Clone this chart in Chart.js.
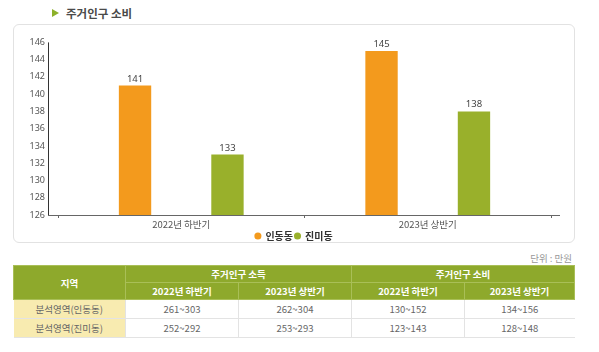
<!DOCTYPE html>
<html>
<head>
<meta charset="utf-8">
<script src="https://cdn.jsdelivr.net/npm/chart.js@4"></script>
<style>
  body { margin: 0; background: #fff; font-family: "Noto Sans CJK KR", "Noto Sans", sans-serif; }
  #wrap { position: relative; width: 599px; height: 352px; overflow: hidden; }
  .title { position: absolute; left: 52px; top: 5px; font-size: 11.5px; font-weight: bold; color: #4a4a4a; }
  .title .tri { display: inline-block; width: 0; height: 0; border-top: 4px solid transparent; border-bottom: 4px solid transparent; border-left: 7px solid #8db12a; margin-right: 7px; vertical-align: 1px; }
  .box { position: absolute; left: 13px; top: 24px; width: 560px; height: 217px; border: 1px solid #e2e2e2; border-radius: 6px; }
  .cv { position: absolute; left: 13px; top: 24px; width: 562px; height: 219px; }
  .unit { position: absolute; right: 27px; top: 251px; font-size: 9.5px; color: #999; }
  table { position: absolute; left: 13px; top: 265px; width: 562px; border-collapse: collapse; font-size: 9.5px; }
  th { background: #8ea92c; color: #fff; font-weight: bold; height: 16px; padding: 0; border: 1px solid #a9bf57; }
  td { color: #666; text-align: center; height: 18px; padding: 0; border-bottom: 1px solid #e3e3e3; border-left: 1px solid #e3e3e3; }
  td.rh { background: #f8ebb0; border-left: none; }
</style>
</head>
<body>
<div id="wrap">
  <div class="title"><span class="tri"></span>주거인구 소비</div>
  <div class="box"></div>
  <div class="cv"><canvas id="chart"></canvas></div>
  <div class="unit">단위 : 만원</div>
  <table>
    <tr><th rowspan="2" style="width:111px">지역</th><th colspan="2">주거인구 소득</th><th colspan="2">주거인구 소비</th></tr>
    <tr><th style="width:112px">2022년 하반기</th><th style="width:112px">2023년 상반기</th><th style="width:112px">2022년 하반기</th><th>2023년 상반기</th></tr>
    <tr><td class="rh">분석영역(인동동)</td><td>261~303</td><td>262~304</td><td>130~152</td><td>134~156</td></tr>
    <tr><td class="rh">분석영역(진미동)</td><td>252~292</td><td>253~293</td><td>123~143</td><td>128~148</td></tr>
  </table>
</div>
<script>
// 차트 데이터
const labels = ["2022년 하반기", "2023년 상반기"];
const inDong = [141, 145];
const jinMi = [133, 138];
const yTicks = [126, 128, 130, 132, 134, 136, 138, 140, 142, 144, 146];

const ORANGE = "#f39a1d";
const GREEN = "#99b02b";

// 막대 위 값 표시
const valueLabels = {
	id: "valueLabels",
	afterDatasetsDraw(chart) {
		const ctx = chart.ctx;
		ctx.save();
		ctx.font = "9.5px 'Noto Sans', sans-serif";
		ctx.fillStyle = "#444";
		ctx.textAlign = "center";
		ctx.textBaseline = "bottom";
		chart.data.datasets.forEach((ds, i) => {
			chart.getDatasetMeta(i).data.forEach((bar, j) => {
				ctx.fillText(ds.data[j], bar.x, bar.y - 2);
			});
		});
		ctx.restore();
	}
};

// 축선 (차트 영역보다 조금 길게)
const axisLines = {
	id: "axisLines",
	afterDraw(chart) {
		const a = chart.chartArea;
		const ctx = chart.ctx;
		ctx.save();
		ctx.lineWidth = 1;
		ctx.strokeStyle = "#333";
		ctx.beginPath();
		ctx.moveTo(a.left - 9.5, a.top);
		ctx.lineTo(a.left - 9.5, a.bottom + 0.5);
		ctx.stroke();
		ctx.strokeStyle = "#666";
		ctx.beginPath();
		ctx.moveTo(a.left - 10, a.bottom + 0.5);
		ctx.lineTo(a.right + 9, a.bottom + 0.5);
		ctx.stroke();
		ctx.restore();
	}
};

new Chart(document.getElementById("chart"), {
	type: "bar",
	data: {
		labels: labels,
		datasets: [
			{ label: "인동동", data: inDong, backgroundColor: ORANGE },
			{ label: "진미동", data: jinMi, backgroundColor: GREEN }
		]
	},
	options: {
		responsive: true,
		maintainAspectRatio: false,
		animation: false,
		categoryPercentage: 0.75,
		barPercentage: 0.35,
		layout: { padding: { top: 16, right: 0, bottom: -8, left: 0 } },
		plugins: {
			tooltip: { enabled: false },
			legend: {
				position: "bottom",
				labels: {
					usePointStyle: true,
					pointStyle: "circle",
					boxWidth: 5,
					boxHeight: 5,
					padding: 2,
					color: "#333",
					font: { family: "'Noto Sans CJK KR'", size: 10, weight: "bold" }
				}
			}
		},
		scales: {
			x: {
				offset: true,
				grid: { display: true, drawOnChartArea: false, offset: true, tickLength: 3, color: "#666" },
				border: { display: false },
				ticks: { color: "#555", padding: 1, font: { family: "'Noto Sans CJK KR'", size: 9.5 } },
				afterFit(scale) { scale.height = 14; }
			},
			y: {
				min: 126,
				max: 146,
				afterBuildTicks(scale) { scale.ticks = yTicks.map(v => ({ value: v })); },
				grid: { display: false, drawTicks: false },
				border: { display: false },
				ticks: { color: "#555", padding: 13, font: { family: "'Noto Sans'", size: 9 } },
				afterFit(scale) { scale.width = 45; }
			},
			// 오른쪽 여백용 빈 축
			yR: {
				position: "right",
				display: true,
				grid: { display: false, drawTicks: false },
				border: { display: false },
				ticks: { display: false },
				afterFit(scale) { scale.width = 24; }
			}
		}
	},
	plugins: [valueLabels, axisLines]
});
</script>
</body>
</html>
